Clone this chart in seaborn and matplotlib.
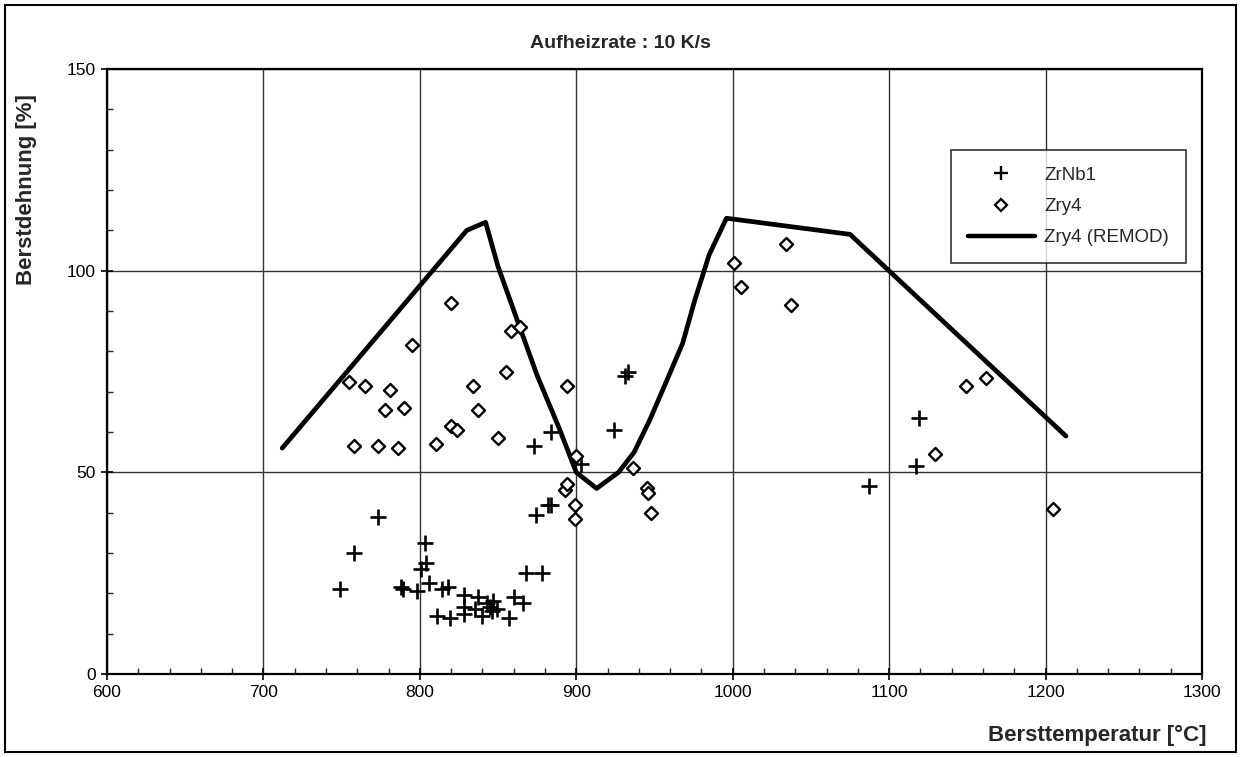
import matplotlib
matplotlib.use("Agg")
import matplotlib.pyplot as plt
from matplotlib.ticker import MultipleLocator
from matplotlib.lines import Line2D
from matplotlib.patches import Rectangle
import seaborn as sns
import pandas as pd

# ZrNb1 (plus markers)
zrnb1_t = [749, 758, 773, 788, 789, 798, 801, 803, 804, 806, 811, 814, 818, 819,
           828, 828, 828, 835, 837, 840, 843, 845, 846, 847, 849, 857, 860, 866,
           868, 874, 873, 878, 882, 884, 884, 903, 924, 931, 933, 1087, 1117, 1119]
zrnb1_v = [21, 30, 39, 21.5, 21, 20.5, 26, 32.5, 27.5, 22.5, 14.5, 21, 21.5, 14,
           19.5, 16.5, 15, 16, 19, 14.5, 17.5, 16.5, 15.5, 18, 16, 14, 19, 17.5,
           25, 39.5, 56.5, 25, 42, 42, 60, 52, 60.5, 74, 75, 46.5, 51.5, 63.5]

# Zry4 (diamond markers)
zry4_t = [755, 758, 765, 773, 778, 781, 786, 790, 795, 810, 820, 820, 824, 834,
          837, 850, 855, 858, 864, 893, 894, 894, 899, 899, 900, 936, 945, 946,
          948, 1001, 1005, 1034, 1037, 1129, 1149, 1162, 1205]
zry4_v = [72.5, 56.5, 71.5, 56.5, 65.5, 70.5, 56, 66, 81.5, 57, 92, 61.5, 60.5,
          71.5, 65.5, 58.5, 75, 85, 86, 45.5, 47, 71.5, 42, 38.5, 54, 51, 46,
          45, 40, 102, 96, 106.5, 91.5, 54.5, 71.5, 73.5, 41]

# Zry4 (REMOD) curve
remod_t = [712, 830, 842, 850, 862, 875, 889, 900, 913, 927, 937, 947, 957,
           968, 976, 985, 996, 1075, 1213]
remod_v = [56, 110, 112, 101, 88, 74, 61, 50, 46, 50, 55, 63, 72,
           82, 93, 104, 113, 109, 59]

x_ticks = [600, 700, 800, 900, 1000, 1100, 1200, 1300]
y_ticks = [0, 50, 100, 150]

title = "Aufheizrate : 10 K/s"
xlabel = "Bersttemperatur [°C]"
ylabel = "Berstdehnung [%]"

sns.set_theme(style="white")
plt.rcParams['font.family'] = ['Liberation Sans', 'DejaVu Sans']

W, H = 1241, 757
fig = plt.figure(figsize=(W/100, H/100), dpi=100)
ax = fig.add_axes([107/W, 1-674/H, (1202-107)/W, (674-69)/H])

df_nb = pd.DataFrame({"t": zrnb1_t, "v": zrnb1_v})
df_z4 = pd.DataFrame({"t": zry4_t, "v": zry4_v})
df_re = pd.DataFrame({"t": remod_t, "v": remod_v})

sns.lineplot(data=df_re, x="t", y="v", ax=ax, color="black", lw=3.4, sort=False,
             zorder=3)
sns.scatterplot(data=df_nb, x="t", y="v", ax=ax, marker="+", s=120,
                color="black", linewidth=1.9, zorder=4)
sns.scatterplot(data=df_z4, x="t", y="v", ax=ax, marker="D", s=44,
                facecolor="white", edgecolor="black", linewidth=1.7, zorder=4)

ax.set_xlim(600, 1300)
ax.set_ylim(0, 150)
ax.set_xticks(x_ticks)
ax.set_yticks(y_ticks)
ax.xaxis.set_minor_locator(MultipleLocator(20))
ax.yaxis.set_minor_locator(MultipleLocator(10))
ax.tick_params(axis="both", which="major", direction="inout", length=8, width=1.2,
               labelsize=12.5, colors="black", pad=4)
ax.tick_params(axis="both", which="minor", direction="in", length=4, width=1.0)
ax.tick_params(bottom=True, left=True, which="both")
ax.grid(True, which="major", color="#333333", lw=1.0)
for s in ax.spines.values():
    s.set_color("black")
    s.set_linewidth(1.6)

ax.set_xlabel("")
ax.set_ylabel("")
fig.text(27/W, 1-190/H, ylabel, ha="center", va="center", rotation=90,
         fontsize=16, fontweight="bold")
fig.text(1207/W, 1-735/H, xlabel, ha="right", va="center",
         fontsize=16, fontweight="bold")
fig.text(620/W, 1-43/H, title, ha="center", va="center", fontsize=14,
         fontweight="bold")

handles = [
    Line2D([], [], marker="+", color="black", ls="none", ms=10, mew=1.7),
    Line2D([], [], marker="D", color="black", mfc="white", ls="none", ms=6.5, mew=1.6),
    Line2D([], [], color="black", lw=3.2),
]
leg = ax.legend(handles, ["ZrNb1", "Zry4", "Zry4 (REMOD)"], loc="upper right",
                bbox_to_anchor=(1186/W, 1 - 150/H),
                bbox_transform=fig.transFigure, frameon=True, fancybox=False,
                fontsize=13.5, handlelength=3.6, handletextpad=0.5,
                borderpad=0.9, labelspacing=0.75, borderaxespad=0)
leg.get_frame().set_edgecolor("black")
leg.get_frame().set_linewidth(1.2)

fig.patches.append(Rectangle((5/W, 5/H), 1231/W, 747/H,
                             transform=fig.transFigure, fill=False,
                             edgecolor="black", lw=1.5))

fig.savefig("out.png", dpi=100, facecolor="white")
